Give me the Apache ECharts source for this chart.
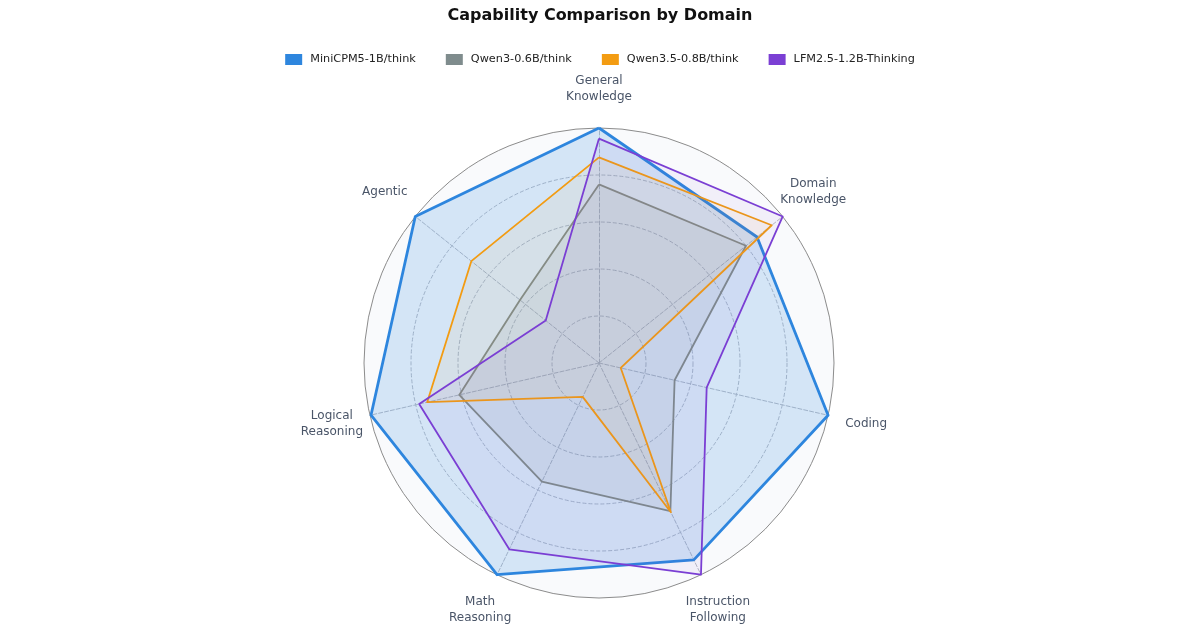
<!DOCTYPE html>
<html>
<head>
<meta charset="utf-8">
<title>Capability Comparison by Domain</title>
<script src="https://cdn.jsdelivr.net/npm/echarts@6.0.0/dist/echarts.min.js"></script>
<style>
  html, body { margin: 0; padding: 0; background: #fff; }
  #chart { width: 1200px; height: 630px; }
</style>
</head>
<body>
<div id="chart"></div>
<script>
// axes in echarts order (counter-clockwise from the top)
const domains = [
  'General\nKnowledge', 'Agentic', 'Logical\nReasoning', 'Math\nReasoning',
  'Instruction\nFollowing', 'Coding', 'Domain\nKnowledge'
]

// scores, same order as domains (0 - 100)
const miniCPM = [100, 100, 99.5, 100, 93, 100, 86]
const qwen3 = [76, 43, 61, 56, 70, 33, 80]
const qwen35 = [87.5, 69.5, 75, 16, 70.5, 9.5, 94]
const lfm = [95.5, 29, 78.5, 88, 100, 47, 100]

const modelNames = ['MiniCPM5-1B/think', 'Qwen3-0.6B/think', 'Qwen3.5-0.8B/think', 'LFM2.5-1.2B-Thinking']
const modelColors = ['#2E86DE', '#7F8C8D', '#F39C12', '#7B3FD4']

const font = 'DejaVu Sans'
const chart = echarts.init(document.getElementById('chart'))

const indicator = domains.map(name => ({ name, min: 0, max: 100 }))

function makeSeries(idx, values, width, fillOpacity) {
  return {
    type: 'radar',
    radarIndex: 1,
    name: modelNames[idx],
    symbol: 'none',
    silent: true,
    z: idx === 0 ? 2 : 3,
    lineStyle: { color: modelColors[idx], width },
    itemStyle: { color: modelColors[idx] },
    areaStyle: { color: modelColors[idx], opacity: fillOpacity },
    data: [{ value: values, name: modelNames[idx] }]
  }
}

const option = {
  backgroundColor: '#fff',
  animation: false,
  title: {
    text: 'Capability Comparison by Domain',
    left: 'center',
    top: 3,
    textStyle: { fontFamily: font, fontSize: 16, fontWeight: 'bold', color: '#111' }
  },
  legend: {
    data: modelNames,
    top: 49,
    left: 'center',
    icon: 'rect',
    itemWidth: 17,
    itemHeight: 11,
    itemGap: 30,
    textStyle: { fontFamily: font, fontSize: 11.25, color: '#222', padding: [0, 0, 0, 3] }
  },
  radar: [
    // background disc + solid outer ring
    {
      center: [599, 363],
      radius: 235,
      shape: 'circle',
      startAngle: 90,
      splitNumber: 1,
      indicator,
      axisName: { show: false },
      axisLine: { show: false },
      axisTick: { show: false },
      axisLabel: { show: false },
      splitLine: { lineStyle: { color: ['transparent', '#8c8c8c'], width: 1 } },
      splitArea: { show: true, areaStyle: { color: ['#f9fafc'] } }
    },
    // dashed grid and axis names
    {
      center: [599, 363],
      radius: 235,
      shape: 'circle',
      startAngle: 90,
      splitNumber: 5,
      indicator,
      axisName: {
        fontFamily: font,
        fontSize: 12,
        color: '#4a5568',
        lineHeight: 16,
        align: 'center',
        verticalAlign: 'middle'
      },
      nameGap: 39,
      axisLine: { lineStyle: { color: '#b8bcc4', type: 'dashed', width: 1 } },
      splitLine: {
        lineStyle: {
          color: ['#b8bcc4', '#b8bcc4', '#b8bcc4', '#b8bcc4', '#b8bcc4', 'transparent'],
          type: 'dashed',
          width: 1
        }
      },
      splitArea: { show: false }
    }
  ],
  series: [
    makeSeries(0, miniCPM, 2.8, 0.18),
    makeSeries(1, qwen3, 1.8, 0.1),
    makeSeries(2, qwen35, 1.8, 0.06),
    makeSeries(3, lfm, 1.8, 0.06)
  ]
}

chart.setOption(option)
</script>
</body>
</html>
